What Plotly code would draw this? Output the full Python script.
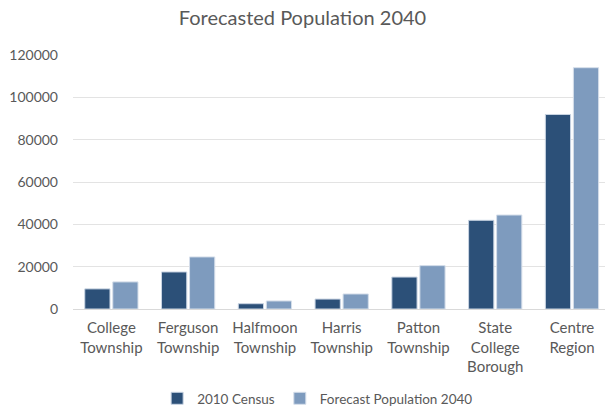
import plotly.graph_objects as go

# Municipalities in the Centre Region
categories = [
    "College<br>Township",
    "Ferguson<br>Township",
    "Halfmoon<br>Township",
    "Harris<br>Township",
    "Patton<br>Township",
    "State<br>College<br>Borough",
    "Centre<br>Region",
]

census_2010 = [9500, 17500, 2500, 4700, 15100, 41900, 91900]
forecast_2040 = [12800, 24600, 3800, 7100, 20500, 44400, 114000]

y_ticks = [0, 20000, 40000, 60000, 80000, 100000, 120000]

font_family = "Lato, Open Sans, sans-serif"
text_color = "#595959"

fig = go.Figure()
fig.add_trace(go.Bar(
    name="2010 Census",
    x=categories,
    y=census_2010,
    marker=dict(color="#2C5078", line=dict(color="#C9D4E3", width=1)),
))
fig.add_trace(go.Bar(
    name="Forecast Population 2040",
    x=categories,
    y=forecast_2040,
    marker=dict(color="#7E9BBE", line=dict(color="#D5DEEA", width=1)),
))

fig.update_layout(
    width=605,
    height=410,
    margin=dict(l=73, r=0, t=55, b=101, autoexpand=False),
    paper_bgcolor="white",
    plot_bgcolor="white",
    barmode="group",
    bargap=0.27,
    bargroupgap=0.1,
    title=dict(
        text="Forecasted Population 2040",
        x=0.5,
        xanchor="center",
        y=0.955,
        yanchor="middle",
        font=dict(family=font_family, size=20, color=text_color),
    ),
    font=dict(family=font_family, size=14, color=text_color),
    legend=dict(
        orientation="h",
        x=0.525,
        xref="container",
        xanchor="center",
        y=0.028,
        yref="container",
        yanchor="middle",
        font=dict(size=13.5, color=text_color),
        itemwidth=30,
        traceorder="normal",
    ),
    xaxis=dict(
        range=[-0.5, 6.43],
        showgrid=False,
        showline=False,
        ticks="",
        ticklabelstandoff=8,
        automargin=False,
        tickfont=dict(size=15, color=text_color),
    ),
    yaxis=dict(
        range=[0, 120000],
        tickvals=y_ticks,
        ticktext=[str(v) for v in y_ticks],
        showgrid=True,
        gridcolor="#E3E3E3",
        gridwidth=1,
        zeroline=True,
        zerolinecolor="#D9D9D9",
        zerolinewidth=1,
        showline=False,
        ticks="",
        ticklabelstandoff=14,
        automargin=False,
        tickfont=dict(size=14, color=text_color),
    ),
)

fig.write_html("out.html")
